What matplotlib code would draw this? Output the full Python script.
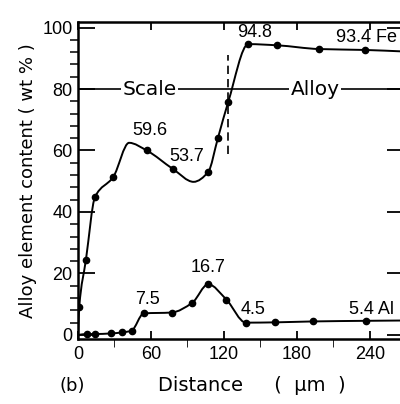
import numpy as np
import matplotlib
matplotlib.use("Agg")
import matplotlib.pyplot as plt
from matplotlib.path import Path
from matplotlib.patches import PathPatch
from matplotlib.ticker import MultipleLocator

# Fe profile: traced points, True = measured point with a dot
fe_x = [0, 1, 6.5, 14, 29, 42, 56.5, 78, 95, 107, 115, 123.5, 140, 164, 198, 236, 268]
fe_y = [0, 9, 24.4, 44.9, 51.4, 62.5, 60.0, 54.0, 49.8, 53.0, 64.0, 75.8, 94.6, 94.2, 93.0, 92.7, 92.2]
fe_dot = [False, True, True, True, True, False, True, True, False, True, True, True, True, True, True, True, False]

# Al profile
al_x = [0, 7, 14, 27, 36, 44, 54, 77, 94, 107, 122, 138, 162, 193, 237, 268]
al_y = [0, 0.3, 0.3, 0.5, 0.8, 1.4, 7.0, 7.3, 10.5, 16.5, 11.5, 4.0, 4.1, 4.4, 4.6, 4.7]
al_dot = [False, True, True, True, True, True, True, True, True, True, True, True, True, True, True, False]

# value labels (text, x, y)
fe_labels = [("59.6", 59, 66.5), ("53.7", 89.5, 58), ("94.8", 145.5, 98.3)]
al_labels = [("7.5", 57.5, 11.6), ("16.7", 107, 22), ("4.5", 144, 8.3)]

NUM = ['Liberation Sans', 'DejaVu Sans']


def smooth_path(xs, ys):
    # monotone cubic (Fritsch-Carlson) through the points, as Bezier segments
    x = np.asarray(xs, float)
    y = np.asarray(ys, float)
    h = np.diff(x)
    d = np.diff(y) / h
    m = np.empty_like(y)
    m[0], m[-1] = d[0], d[-1]
    for k in range(1, len(x) - 1):
        if d[k - 1] * d[k] <= 0:
            m[k] = 0
        else:
            w1 = 2 * h[k] + h[k - 1]
            w2 = h[k] + 2 * h[k - 1]
            m[k] = (w1 + w2) / (w1 / d[k - 1] + w2 / d[k])
    verts = [(x[0], y[0])]
    codes = [Path.MOVETO]
    for k in range(len(x) - 1):
        verts += [(x[k] + h[k] / 3, y[k] + m[k] * h[k] / 3),
                  (x[k + 1] - h[k] / 3, y[k + 1] - m[k + 1] * h[k] / 3),
                  (x[k + 1], y[k + 1])]
        codes += [Path.CURVE4] * 3
    return Path(verts, codes)


plt.rcParams['font.family'] = ['DejaVu Sans']
fig = plt.figure(figsize=(4, 4.04), dpi=100)
ax = fig.add_axes([0.195, 0.161, 0.815, 0.7846])
ax.set_xlim(0, 268)
ax.set_ylim(-1.3, 101.8)

for xs, ys, dots in [(fe_x, fe_y, fe_dot), (al_x, al_y, al_dot)]:
    ax.add_patch(PathPatch(smooth_path(xs, ys), fill=False, lw=1.4, ec='black'))
    mx = [x for x, d in zip(xs, dots) if d]
    my = [y for y, d in zip(ys, dots) if d]
    ax.plot(mx, my, 'o', ms=4.5, color='black')

# scale / alloy boundary
ax.axhline(80, color='black', lw=1.2)
ax.plot([123.5, 123.5], [59, 91], color='black', lw=1.2, ls=(0, (5, 3)))
box = dict(facecolor='white', edgecolor='none', pad=1.0)
ax.text(59, 80, "Scale", ha='center', va='center', fontsize=14.5, bbox=box)
ax.text(195, 80, "Alloy", ha='center', va='center', fontsize=14.5, bbox=box)

for t, x, y in fe_labels + al_labels:
    ax.text(x, y, t, ha='center', va='center', fontsize=13, family=NUM)
ax.text(262, 96.8, "93.4 Fe", ha='right', va='center', fontsize=13, family=NUM)
ax.text(260, 8.3, "5.4 Al", ha='right', va='center', fontsize=13, family=NUM)

ax.set_xticks([0, 60, 120, 180, 240])
ax.xaxis.set_minor_locator(MultipleLocator(30))
ax.set_yticks([0, 20, 40, 60, 80, 100])
ax.yaxis.set_minor_locator(MultipleLocator(4))
ax.tick_params(direction='in', top=True, right=True, labelsize=13, width=1.3)
ax.tick_params(axis='y', which='major', length=12, pad=4)
ax.tick_params(axis='y', which='minor', length=6, width=1.1)
ax.tick_params(axis='x', which='both', length=6, pad=5)
for lab in ax.get_xticklabels() + ax.get_yticklabels():
    lab.set_family(NUM)
for s in ax.spines.values():
    s.set_linewidth(1.8)

ax.set_ylabel("Alloy element content ( wt % )", fontsize=13, labelpad=4)
fig.text(0.63, 0.047, "Distance     (  μm  )", ha='center', va='center', fontsize=14)
fig.text(0.18, 0.045, "(b)", ha='center', va='center', fontsize=13)

fig.savefig("out.png", dpi=100)
